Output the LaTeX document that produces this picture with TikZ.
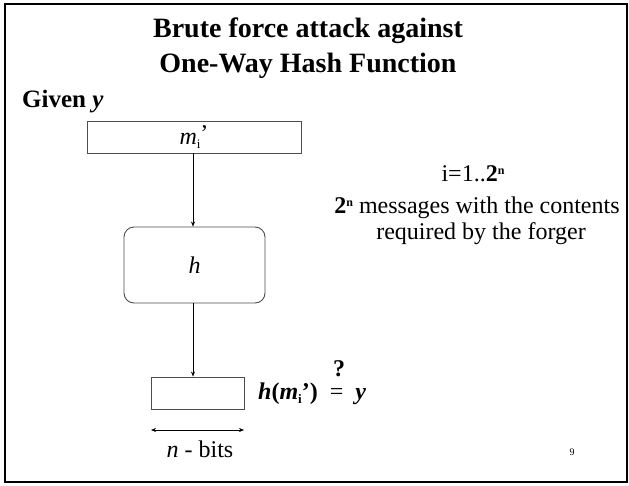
\documentclass[tikz,border=0pt]{standalone}
\usepackage{fontspec}
\setmainfont{Liberation Serif}
\usetikzlibrary{arrows.meta}
\tikzset{
  boxline/.style={draw=black!70, line width=0.9pt},
  flow/.style={-{Stealth[length=5pt,width=4pt]}, line width=0.6pt},
  txt/.style={inner sep=0pt, font=\fontsize{24}{28}\selectfont},
}
\begin{document}
\begin{tikzpicture}[x=1pt,y=-1pt]
\useasboundingbox (0,0) rectangle (629,485);
\draw[line width=2.5pt] (5,4) rectangle (627,482);
\node[inner sep=0pt, font=\fontsize{28}{32}\selectfont\bfseries] (t1) at (308,31) {Brute force attack against};
\node[inner sep=0pt, font=\fontsize{28}{32}\selectfont\bfseries] (t2) at (308,66) {One-Way Hash Function};
\node[inner sep=0pt, anchor=west, font=\fontsize{25}{30}\selectfont\bfseries] (given) at (22,102) {Given \textit{y}};
\node[boxline, minimum width=214pt, minimum height=32pt, inner sep=0pt, font=\fontsize{24}{28}\selectfont] (mbox) at (194,137) {\textit{m}\raisebox{-0.35ex}{\fontsize{13}{13}\selectfont i}\raisebox{0.25ex}{’}};
\node[boxline, rounded corners=10pt, minimum width=141pt, minimum height=76pt, inner sep=0pt, font=\fontsize{24}{28}\selectfont] (hbox) at (194.5,265) {\textit{h}};
\node[boxline, minimum width=93pt, minimum height=32pt, inner sep=0pt] (obox) at (197.5,393) {};
\draw[flow] (mbox.south -| 193,0) -- (hbox.north -| 193,0);
\draw[flow] (hbox.south -| 193,0) -- (obox.north -| 193,0);
\node[txt, anchor=west, font=\fontsize{24}{28}\selectfont\bfseries] (eq) at (258,394) {\textit{h}(\textit{m}\raisebox{-0.35ex}{\fontsize{13}{13}\selectfont i}’)\ \ \mdseries=\ \ \bfseries\textit{y}};
\node[txt, font=\fontsize{24}{28}\selectfont\bfseries] (q) at (339,369) {?};
\coordinate (da) at (151,430);
\coordinate (db) at (244,430);
\draw[{Stealth[length=5pt,width=4pt]}-{Stealth[length=5pt,width=4pt]}, line width=0.6pt] (da) -- (db);
\node[txt] (nbits) at (200,449) {\textit{n} - bits};
\node[txt] (range) at (473,174) {i=1..\textbf{2}\raisebox{0.7ex}{\fontsize{12}{12}\selectfont\bfseries n}};
\node[txt] (msg1) at (477,208) {\textbf{2}\raisebox{0.7ex}{\fontsize{12}{12}\selectfont\bfseries n} messages with the contents};
\node[txt] (msg2) at (481,234) {required by the forger};
\node[inner sep=0pt, font=\fontsize{10}{12}\selectfont] (pg) at (572,452) {9};
\end{tikzpicture}
\end{document}
